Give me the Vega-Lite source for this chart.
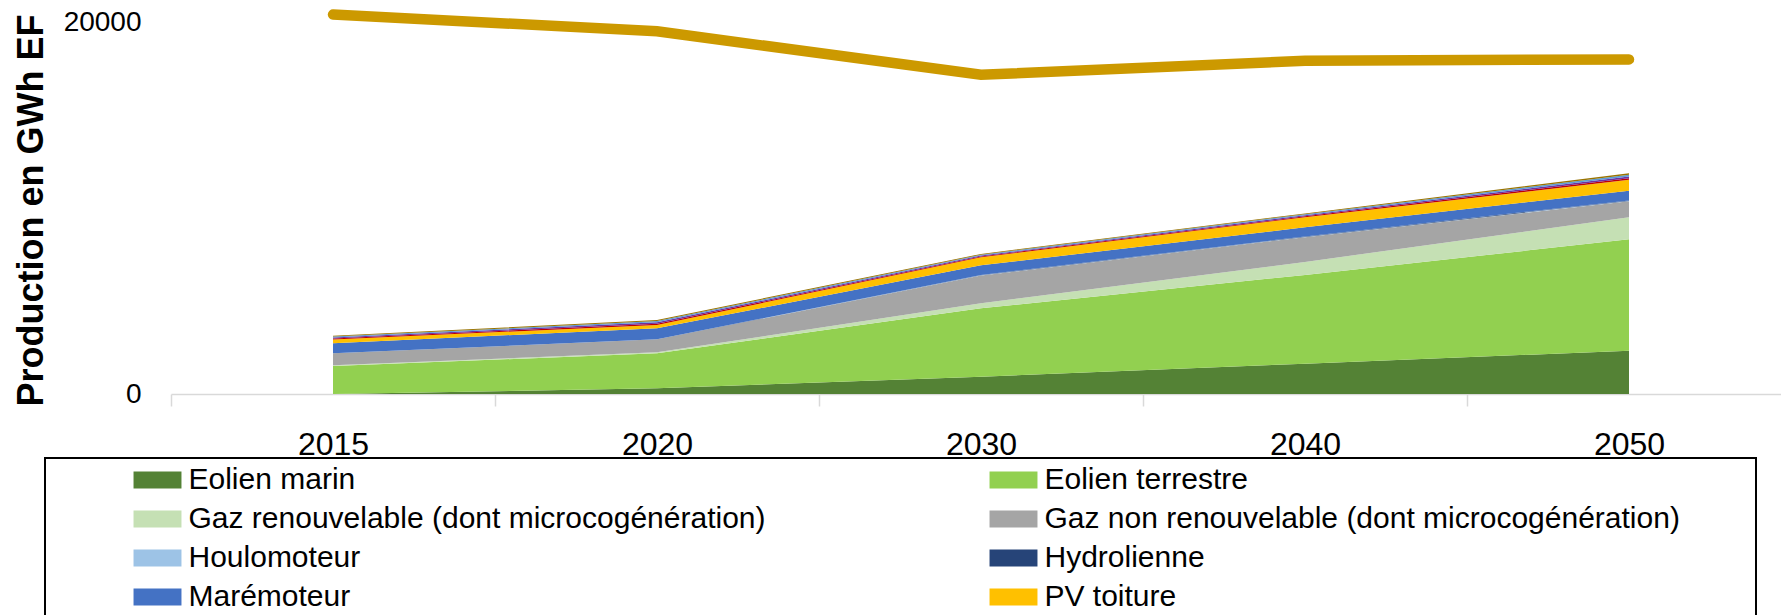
{
  "$schema": "https://vega.github.io/schema/vega-lite/v6.json",
  "width": 1620,
  "height": 394,
  "autosize": {"type": "none"},
  "padding": {"left": 171, "top": 0, "right": 0, "bottom": 221},
  "background": "white",
  "config": {
    "view": {"stroke": null},
    "font": "Liberation Sans",
    "legend": {"strokeWidth": 2}
  },
  "datasets": {
    "production": [
      {"annee": 2015, "serie": "Eolien marin", "valeur": 0},
      {"annee": 2015, "serie": "Eolien terrestre", "valeur": 1505},
      {"annee": 2015, "serie": "Gaz renouvelable (dont microcogénération)", "valeur": 45},
      {"annee": 2015, "serie": "Gaz non renouvelable (dont microcogénération)", "valeur": 638},
      {"annee": 2015, "serie": "Houlomoteur", "valeur": 0},
      {"annee": 2015, "serie": "Hydrolienne", "valeur": 0},
      {"annee": 2015, "serie": "Marémoteur", "valeur": 537},
      {"annee": 2015, "serie": "PV toiture", "valeur": 200},
      {"annee": 2015, "serie": "PV au sol", "valeur": 55},
      {"annee": 2015, "serie": "Biomasse", "valeur": 60},
      {"annee": 2015, "serie": "Hydraulique", "valeur": 45},
      {"annee": 2015, "serie": "Valorisation des déchets", "valeur": 45},
      {"annee": 2020, "serie": "Eolien marin", "valeur": 304},
      {"annee": 2020, "serie": "Eolien terrestre", "valeur": 1886},
      {"annee": 2020, "serie": "Gaz renouvelable (dont microcogénération)", "valeur": 50},
      {"annee": 2020, "serie": "Gaz non renouvelable (dont microcogénération)", "valeur": 700},
      {"annee": 2020, "serie": "Houlomoteur", "valeur": 0},
      {"annee": 2020, "serie": "Hydrolienne", "valeur": 0},
      {"annee": 2020, "serie": "Marémoteur", "valeur": 592},
      {"annee": 2020, "serie": "PV toiture", "valeur": 178},
      {"annee": 2020, "serie": "PV au sol", "valeur": 70},
      {"annee": 2020, "serie": "Biomasse", "valeur": 75},
      {"annee": 2020, "serie": "Hydraulique", "valeur": 65},
      {"annee": 2020, "serie": "Valorisation des déchets", "valeur": 58},
      {"annee": 2030, "serie": "Eolien marin", "valeur": 930},
      {"annee": 2030, "serie": "Eolien terrestre", "valeur": 3676},
      {"annee": 2030, "serie": "Gaz renouvelable (dont microcogénération)", "valeur": 269},
      {"annee": 2030, "serie": "Gaz non renouvelable (dont microcogénération)", "valeur": 1495},
      {"annee": 2030, "serie": "Houlomoteur", "valeur": 10},
      {"annee": 2030, "serie": "Hydrolienne", "valeur": 20},
      {"annee": 2030, "serie": "Marémoteur", "valeur": 520},
      {"annee": 2030, "serie": "PV toiture", "valeur": 430},
      {"annee": 2030, "serie": "PV au sol", "valeur": 45},
      {"annee": 2030, "serie": "Biomasse", "valeur": 50},
      {"annee": 2030, "serie": "Hydraulique", "valeur": 45},
      {"annee": 2030, "serie": "Valorisation des déchets", "valeur": 40},
      {"annee": 2040, "serie": "Eolien marin", "valeur": 1630},
      {"annee": 2040, "serie": "Eolien terrestre", "valeur": 4770},
      {"annee": 2040, "serie": "Gaz renouvelable (dont microcogénération)", "valeur": 700},
      {"annee": 2040, "serie": "Gaz non renouvelable (dont microcogénération)", "valeur": 1330},
      {"annee": 2040, "serie": "Houlomoteur", "valeur": 15},
      {"annee": 2040, "serie": "Hydrolienne", "valeur": 25},
      {"annee": 2040, "serie": "Marémoteur", "valeur": 490},
      {"annee": 2040, "serie": "PV toiture", "valeur": 540},
      {"annee": 2040, "serie": "PV au sol", "valeur": 50},
      {"annee": 2040, "serie": "Biomasse", "valeur": 60},
      {"annee": 2040, "serie": "Hydraulique", "valeur": 55},
      {"annee": 2040, "serie": "Valorisation des déchets", "valeur": 45},
      {"annee": 2050, "serie": "Eolien marin", "valeur": 2330},
      {"annee": 2050, "serie": "Eolien terrestre", "valeur": 5987},
      {"annee": 2050, "serie": "Gaz renouvelable (dont microcogénération)", "valeur": 1183},
      {"annee": 2050, "serie": "Gaz non renouvelable (dont microcogénération)", "valeur": 860},
      {"annee": 2050, "serie": "Houlomoteur", "valeur": 20},
      {"annee": 2050, "serie": "Hydrolienne", "valeur": 30},
      {"annee": 2050, "serie": "Marémoteur", "valeur": 520},
      {"annee": 2050, "serie": "PV toiture", "valeur": 590},
      {"annee": 2050, "serie": "PV au sol", "valeur": 80},
      {"annee": 2050, "serie": "Biomasse", "valeur": 95},
      {"annee": 2050, "serie": "Hydraulique", "valeur": 90},
      {"annee": 2050, "serie": "Valorisation des déchets", "valeur": 80}
    ],
    "ordre": [
      {"serie": "Eolien marin", "rang": 1},
      {"serie": "Eolien terrestre", "rang": 2},
      {"serie": "Gaz renouvelable (dont microcogénération)", "rang": 3},
      {"serie": "Gaz non renouvelable (dont microcogénération)", "rang": 4},
      {"serie": "Houlomoteur", "rang": 5},
      {"serie": "Hydrolienne", "rang": 6},
      {"serie": "Marémoteur", "rang": 7},
      {"serie": "PV toiture", "rang": 8},
      {"serie": "PV au sol", "rang": 9},
      {"serie": "Biomasse", "rang": 10},
      {"serie": "Hydraulique", "rang": 11},
      {"serie": "Valorisation des déchets", "rang": 12}
    ],
    "consommation": [
      {"annee": 2015, "valeur": 20400},
      {"annee": 2020, "valeur": 19500},
      {"annee": 2030, "valeur": 17160},
      {"annee": 2040, "valeur": 17920},
      {"annee": 2050, "valeur": 17990}
    ]
  },
  "encoding": {
    "x": {
      "field": "annee",
      "type": "ordinal",
      "bandPosition": 0.5,
      "scale": {"type": "band", "paddingInner": 0, "paddingOuter": 0},
      "axis": {
        "title": null,
        "labelAngle": 0,
        "labelFont": "Liberation Sans",
        "labelFontSize": 32,
        "labelColor": "#000000",
        "labelBaseline": "alphabetic",
        "labelPadding": 48,
        "tickBand": "extent",
        "tickSize": 12,
        "tickColor": "#D9D9D9",
        "tickWidth": 1.5,
        "domainColor": "#D9D9D9",
        "domainWidth": 1.5,
        "grid": false
      }
    }
  },
  "layer": [
    {
      "data": {"name": "production"},
      "transform": [
        {"lookup": "serie", "from": {"data": {"name": "ordre"}, "key": "serie", "fields": ["rang"]}}
      ],
      "mark": {"type": "area", "opacity": 1, "line": false},
      "encoding": {
        "y": {
          "field": "valeur",
          "type": "quantitative",
          "stack": "zero",
          "title": "Production en GWh EF",
          "scale": {"domain": [0, 21183], "nice": false, "zero": true},
          "axis": {
            "values": [0, 20000],
            "format": "d",
            "grid": false,
            "domain": false,
            "ticks": false,
            "labelFont": "Liberation Sans",
            "labelFontSize": 28,
            "labelColor": "#000000",
            "labelPadding": 30,
            "title": "Production en GWh EF",
            "titleFont": "Liberation Sans",
            "titleFontSize": 36,
            "titleFontWeight": "bold",
            "titleColor": "#000000",
            "titleAngle": -90,
            "titleAlign": "center",
            "titleBaseline": "alphabetic",
            "titleX": -129,
            "titleY": 210
          }
        },
        "order": {"field": "rang", "type": "quantitative", "sort": "ascending"},
        "color": {
          "field": "serie",
          "type": "nominal",
          "scale": {
            "domain": [
              "Eolien marin",
              "Eolien terrestre",
              "Gaz renouvelable (dont microcogénération)",
              "Gaz non renouvelable (dont microcogénération)",
              "Houlomoteur",
              "Hydrolienne",
              "Marémoteur",
              "PV toiture",
              "PV au sol",
              "Biomasse",
              "Hydraulique",
              "Valorisation des déchets"
            ],
            "range": [
              "#548235",
              "#92D050",
              "#C5E0B4",
              "#A5A5A5",
              "#9DC3E6",
              "#264478",
              "#4472C4",
              "#FFC000",
              "#C00000",
              "#7030A0",
              "#5B9BD5",
              "#997300"
            ]
          },
          "legend": {
            "title": " ",
            "titleOrient": "right",
            "titlePadding": 69,
            "titleFontSize": 10,
            "orient": "none",
            "legendX": -126,
            "legendY": 458,
            "direction": "horizontal",
            "columns": 2,
            "gridAlign": "all",
            "columnPadding": 84,
            "rowPadding": 9,
            "padding": 7,
            "strokeColor": "#000000",
            "fillColor": "#FFFFFF",
            "symbolType": "M-2.82,-1H2.82V1H-2.82Z",
            "symbolSize": 289,
            "symbolStrokeWidth": 0,
            "symbolOpacity": 1,
            "symbolOffset": 90.5,
            "labelOffset": 16,
            "labelFont": "Liberation Sans",
            "labelFontSize": 30,
            "labelColor": "#000000",
            "labelLimit": 1200
          }
        }
      }
    },
    {
      "data": {"name": "consommation"},
      "mark": {"type": "line", "color": "#CC9900", "strokeWidth": 10.5, "strokeCap": "round"},
      "encoding": {
        "y": {
          "field": "valeur",
          "type": "quantitative",
          "title": "Production en GWh EF"
        }
      }
    }
  ]
}
